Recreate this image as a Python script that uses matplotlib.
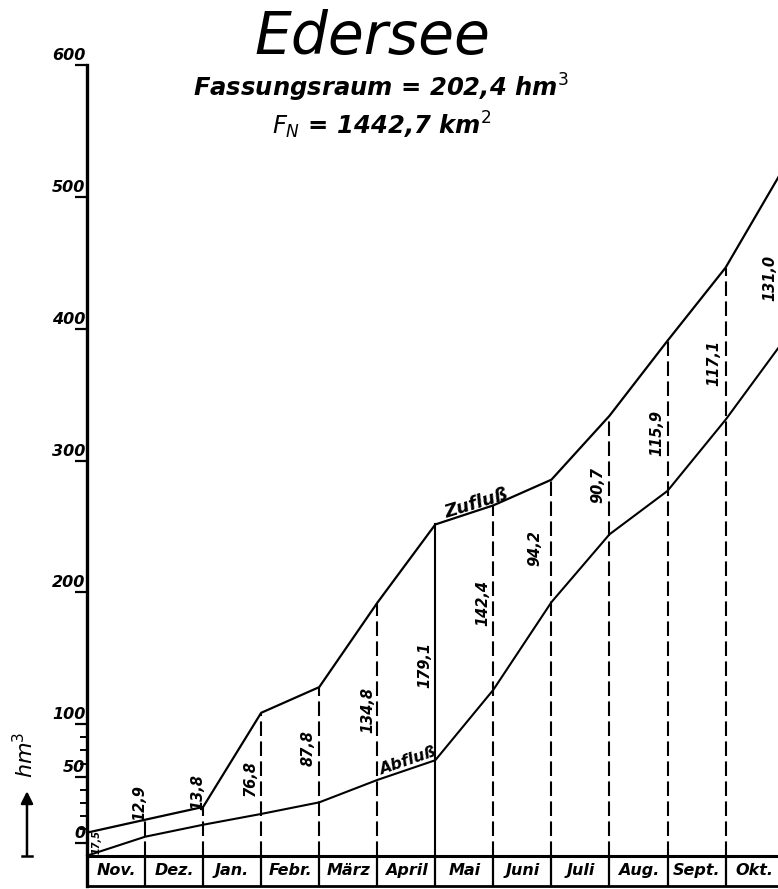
"""
Summenlinie Zufluss / Abfluss fuer den Edersee (hm3), Abflussjahr Nov. - Okt.
"""

import matplotlib
matplotlib.use("Agg")
import matplotlib.pyplot as plt


# Daten

MONTHS = ["Nov.", "Dez.", "Jan.", "Febr.", "März", "April",
          "Mai", "Juni", "Juli", "Aug.", "Sept.", "Okt."]

# Summenwerte an den Monatsgrenzen (Anfang Nov. ... Ende Okt.), hm3
ZUFLUSS = [17.5, 27.3, 37.0, 108.5, 128.0, 192.0, 251.5,
           266.0, 285.5, 334.0, 391.0, 446.5, 522.0]
ABFLUSS = [0.0, 14.4, 23.5, 31.7, 40.5, 57.5, 72.5,
           126.0, 192.5, 244.0, 277.0, 331.0, 391.0]

# Beschriftete Speicherinhalte an den Monatsgrenzen
INHALT = [17.5, 12.9, 13.8, 76.8, 87.8, 134.8, 179.1,
          142.4, 94.2, 90.7, 115.9, 117.1, 131.0]

# y-Achse: Teilstriche und ihre Beschriftung (so wie gezeichnet)
MAJOR_TICKS = [10, 60, 100, 200, 300, 400, 500, 600]
MAJOR_LABELS = ["0", "50", "100", "200", "300", "400", "500", "600"]
MINOR_TICKS = [20, 30, 40, 50, 70, 80, 90]


# Layout

INK = "black"
FONT = dict(family="DejaVu Sans", style="italic", color=INK)
BOX_H = 23                      # Hoehe der Monatsleiste (hm3-Einheiten)
SOLID_AT = 6                    # Grenze Ende April durchgezogen

# Lage der senkrechten Zahlen (x relativ zur Monatsgrenze, y absolut)
LABEL_DX = [0.17, -0.09, -0.09, -0.19, -0.19, -0.16, -0.18,
            -0.18, -0.28, -0.20, -0.18, -0.20, -0.23]
LABEL_Y = [10.4, 40.1, 48.4, 59.0, 81.8, 110.6, 144.8,
           191.9, 233.7, 281.7, 321.3, 374.2, 438.7]

plt.rcParams["mathtext.fontset"] = "dejavusans"

fig = plt.figure(figsize=(7.78, 8.89), dpi=100)
ax = fig.add_axes([0, 0, 1, 1])
ax.set_xlim(-1.4987, 11.903)
ax.set_ylim(-25.28, 649.7)

x = list(range(len(ZUFLUSS)))

# Summenlinien
ax.plot(x, ZUFLUSS, color=INK, lw=1.6, solid_joinstyle="miter")
ax.plot(x, ABFLUSS, color=INK, lw=1.5, solid_joinstyle="miter")

# Monatsgrenzen senkrecht bis zur Zuflusslinie
for i in x[1:]:
    if i == SOLID_AT:
        ax.plot([i, i], [0, ZUFLUSS[i]], color=INK, lw=1.5)
    else:
        ax.plot([i, i], [0, ZUFLUSS[i]], color=INK, lw=1.5,
                linestyle=(0, (7, 2.6)))

# Speicherinhalte, senkrecht geschrieben
for i, val in enumerate(INHALT):
    txt = f"{val:.1f}".replace(".", ",")
    size = 7 if i == 0 else 10.5
    ax.text(i + LABEL_DX[i], LABEL_Y[i], txt, rotation=90,
            ha="center", va="center", fontsize=size,
            fontweight="bold", **FONT)

# Linienbezeichnungen
ax.text(6.70, 267.6, "Zufluß", rotation=17, ha="center", va="center",
        fontsize=13, fontweight="bold", **FONT)
ax.text(5.52, 71.5, "Abfluß", rotation=19, ha="center", va="center",
        fontsize=11.5, fontweight="bold", **FONT)

# Monatsleiste unten
n = len(MONTHS)
ax.plot([0, n], [0, 0], color=INK, lw=2.2)
ax.plot([0, n], [-BOX_H, -BOX_H], color=INK, lw=2.0)
for i in range(1, n + 1):
    ax.plot([i, i], [0, -BOX_H], color=INK, lw=1.6)
for i, m in enumerate(MONTHS):
    ax.text(i + 0.5, -BOX_H / 2, m, ha="center", va="center",
            fontsize=11.5, fontweight="bold", **FONT)

# y-Achse
for side in ["top", "right", "bottom"]:
    ax.spines[side].set_visible(False)
ax.spines["left"].set_position(("data", 0))
ax.spines["left"].set_bounds(-BOX_H, 600)
ax.spines["left"].set_linewidth(2.4)
ax.set_xticks([])
ax.set_yticks(MAJOR_TICKS)
ax.set_yticks(MINOR_TICKS, minor=True)
ax.tick_params(axis="y", which="major", direction="out", length=9,
               width=1.6, labelleft=False)
ax.tick_params(axis="y", which="minor", direction="out", length=5,
               width=1.4)
for t, lbl in zip(MAJOR_TICKS, MAJOR_LABELS):
    ax.text(-0.03, t + 1.5, lbl, ha="right", va="bottom",
            fontsize=11.5, fontweight="bold", **FONT)

# Einheit mit Pfeil
ax.annotate("", xy=(-1.034, 49), xytext=(-1.034, 0),
            arrowprops=dict(arrowstyle="-|>", lw=1.8, color=INK,
                            mutation_scale=18, shrinkA=0, shrinkB=0))
ax.plot([-1.12, -0.95], [0, 0], color=INK, lw=1.8)
ax.text(-1.07, 77, "hm$^3$", rotation=90, ha="center", va="center",
        fontsize=16, **FONT)

# Kopf
fig.text(0.478, 0.958, "Edersee", ha="center", va="center",
         fontsize=42, **FONT)
fig.text(0.49, 0.901, "Fassungsraum = 202,4 hm$^3$", ha="center",
         va="center", fontsize=17.5, fontweight="bold", **FONT)
fig.text(0.49, 0.859, "$F_N$ = 1442,7 km$^2$", ha="center",
         va="center", fontsize=17.5, fontweight="bold", **FONT)

fig.savefig("out.png", dpi=100)
plt.close(fig)
